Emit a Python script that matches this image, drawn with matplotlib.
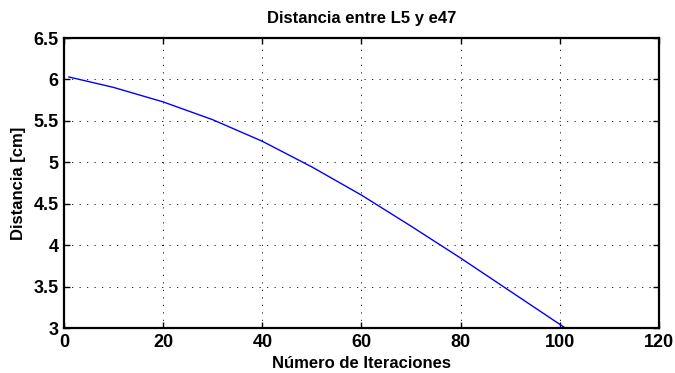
import numpy as np
import matplotlib.pyplot as plt

# valores
iteraciones = [1, 10, 20, 30, 40, 50, 60, 70, 80, 90, 100, 101]
distancia = [6.03, 5.904, 5.729, 5.514, 5.254, 4.944, 4.604, 4.229, 3.844, 3.444, 3.044, 3.004]
xticks = [0, 20, 40, 60, 80, 100, 120]
yticks = [3, 3.5, 4, 4.5, 5, 5.5, 6, 6.5]
ytick_labels = ['3', '3.5', '4', '4.5', '5', '5.5', '6', '6.5']

plt.rcParams['font.family'] = ['Liberation Sans', 'DejaVu Sans']
plt.rcParams['font.weight'] = 'bold'

fig = plt.figure(figsize=(6.75, 3.73), dpi=100)
ax = fig.add_axes([0.0948, 0.1206, 0.8815, 0.7774])

ax.plot(iteraciones, distancia, color='#0000ff', lw=1.0)

ax.set_xlim(0, 120)
ax.set_ylim(3, 6.5)
ax.set_xticks(xticks)
ax.set_yticks(yticks)
ax.set_yticklabels(ytick_labels)
ax.tick_params(direction='in', top=True, right=True, length=4, width=1,
               labelsize=13, pad=4)
for lab in ax.get_xticklabels() + ax.get_yticklabels():
    lab.set_fontweight('bold')
for s in ax.spines.values():
    s.set_linewidth(1.6)

ax.grid(True, color='black', linestyle=(0, (1.5, 7.5)), linewidth=0.6)

ax.set_title('Distancia entre L5 y e47', fontsize=12, fontweight='bold', pad=11)
ax.set_xlabel('Número de Iteraciones', fontsize=12, fontweight='bold', labelpad=4)
ax.set_ylabel('Distancia [cm]', fontsize=12, fontweight='bold', labelpad=5)

fig.savefig('out.png', dpi=100)
